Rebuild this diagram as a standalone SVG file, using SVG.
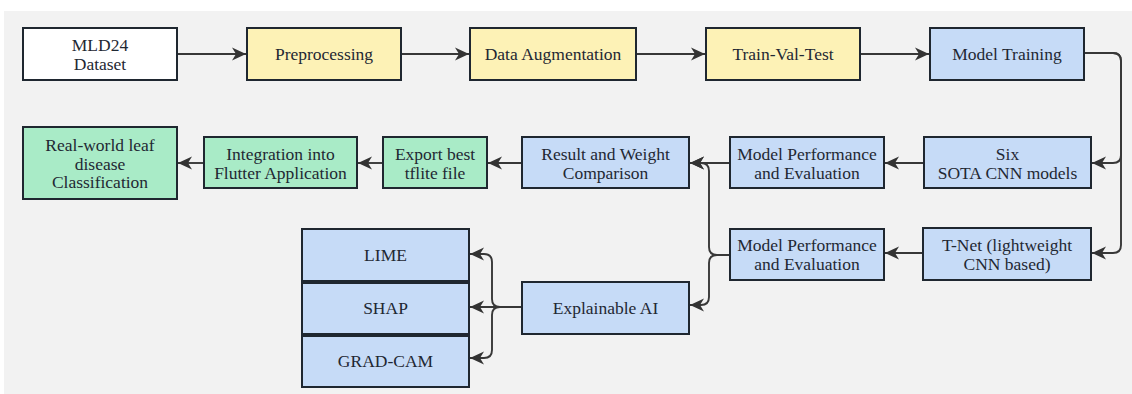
<svg xmlns="http://www.w3.org/2000/svg" width="1132" height="394" viewBox="0 0 1132 394">
<style>
.b{stroke:#1f2730;stroke-width:2}
.w{fill:#ffffff}
.y{fill:#fdf2b6}
.u{fill:#c6dbf7}
.g{fill:#a9ebc7}
.t{font-size:17.5px;fill:#1f2833;text-anchor:middle;dominant-baseline:central}
.c{fill:none;stroke:#383838;stroke-width:1.9}
</style>
<defs>
<marker id="ah" markerUnits="userSpaceOnUse" markerWidth="16" markerHeight="16" viewBox="0 0 16 16" refX="14" refY="8" orient="auto">
<path d="M0,1.5 L14,8 L0,14.5 L4,8 Z" fill="#333333"/>
</marker>
</defs>
<rect x="0" y="0" width="1132" height="394" fill="#ffffff"/>
<rect x="4" y="11" width="1128" height="383" fill="#f2f2f2"/>

<g id="connectors">
<path class="c" d="M177,54 H246" marker-end="url(#ah)"/>
<path class="c" d="M401,54 H469" marker-end="url(#ah)"/>
<path class="c" d="M636,54 H705" marker-end="url(#ah)"/>
<path class="c" d="M860,54 H929" marker-end="url(#ah)"/>
<path class="c" d="M1084,53 H1113 Q1121,53 1121,61 V155 Q1121,163 1113,163 H1092" marker-end="url(#ah)"/>
<path class="c" d="M1084,53 H1113 Q1121,53 1121,61 V245 Q1121,253 1113,253 H1092" marker-end="url(#ah)"/>
<path class="c" d="M924,163 H885" marker-end="url(#ah)"/>
<path class="c" d="M923,253 H885" marker-end="url(#ah)"/>
<path class="c" d="M730,163 H690" marker-end="url(#ah)"/>
<path class="c" d="M730,255 H717 Q709,255 709,247 V171 Q709,163 701,163 H690" marker-end="url(#ah)"/>
<path class="c" d="M730,255 H717 Q709,255 709,263 V297 Q709,305 701,305 H690" marker-end="url(#ah)"/>
<path class="c" d="M522,163 H488" marker-end="url(#ah)"/>
<path class="c" d="M383,163 H358" marker-end="url(#ah)"/>
<path class="c" d="M204,163 H178" marker-end="url(#ah)"/>
<path class="c" d="M522,307 H470" marker-end="url(#ah)"/>
<path class="c" d="M522,307 H500 Q492,307 492,299 V262 Q492,254 484,254 H470" marker-end="url(#ah)"/>
<path class="c" d="M522,307 H500 Q492,307 492,315 V350 Q492,358 484,358 H470" marker-end="url(#ah)"/>
</g>

<g font-family="Liberation Serif, Times New Roman, DejaVu Serif, serif">
<g id="n-mld24"><rect class="b w" x="23" y="28" width="154" height="52"/><text class="t" x="100" y="45">MLD24</text><text class="t" x="100" y="64">Dataset</text></g>
<g id="n-preprocessing"><rect class="b y" x="247" y="28" width="154" height="52"/><text class="t" x="324" y="54">Preprocessing</text></g>
<g id="n-augmentation"><rect class="b y" x="470" y="28" width="166" height="52"/><text class="t" x="553" y="54">Data Augmentation</text></g>
<g id="n-split"><rect class="b y" x="706" y="28" width="154" height="52"/><text class="t" x="783" y="54">Train-Val-Test</text></g>
<g id="n-training"><rect class="b u" x="930" y="28" width="154" height="52"/><text class="t" x="1007" y="54">Model Training</text></g>

<g id="n-realworld"><rect class="b g" x="23" y="127" width="154" height="72"/><text class="t" x="100" y="145">Real-world leaf</text><text class="t" x="100" y="164">disease</text><text class="t" x="100" y="182">Classification</text></g>
<g id="n-flutter"><rect class="b g" x="204" y="137" width="153" height="51"/><text class="t" x="280.5" y="154">Integration into</text><text class="t" x="280.5" y="173">Flutter Application</text></g>
<g id="n-export"><rect class="b g" x="383" y="137" width="104" height="51"/><text class="t" x="435" y="154">Export best</text><text class="t" x="435" y="173">tflite file</text></g>
<g id="n-result"><rect class="b u" x="522" y="137" width="167" height="51"/><text class="t" x="605.5" y="154">Result and Weight</text><text class="t" x="605.5" y="173">Comparison</text></g>
<g id="n-perf1"><rect class="b u" x="730" y="137" width="154" height="51"/><text class="t" x="807" y="154">Model Performance</text><text class="t" x="807" y="173">and Evaluation</text></g>
<g id="n-sota"><rect class="b u" x="924" y="137" width="167" height="51"/><text class="t" x="1007.5" y="154">Six</text><text class="t" x="1007.5" y="173">SOTA CNN models</text></g>

<g id="n-perf2"><rect class="b u" x="730" y="229" width="154" height="51"/><text class="t" x="807" y="245">Model Performance</text><text class="t" x="807" y="264">and Evaluation</text></g>
<g id="n-tnet"><rect class="b u" x="923" y="228" width="168" height="52"/><text class="t" x="1007" y="245">T-Net (lightweight</text><text class="t" x="1007" y="264">CNN based)</text></g>
<g id="n-xai"><rect class="b u" x="522" y="282" width="167" height="52"/><text class="t" x="605.5" y="308">Explainable AI</text></g>
<g id="n-lime"><rect class="b u" x="302" y="229" width="167" height="52"/><text class="t" x="385.5" y="255">LIME</text></g>
<g id="n-shap"><rect class="b u" x="302" y="283" width="167" height="51"/><text class="t" x="385.5" y="308">SHAP</text></g>
<g id="n-gradcam"><rect class="b u" x="302" y="336" width="167" height="51"/><text class="t" x="385.5" y="361">GRAD-CAM</text></g>
</g>
</svg>
